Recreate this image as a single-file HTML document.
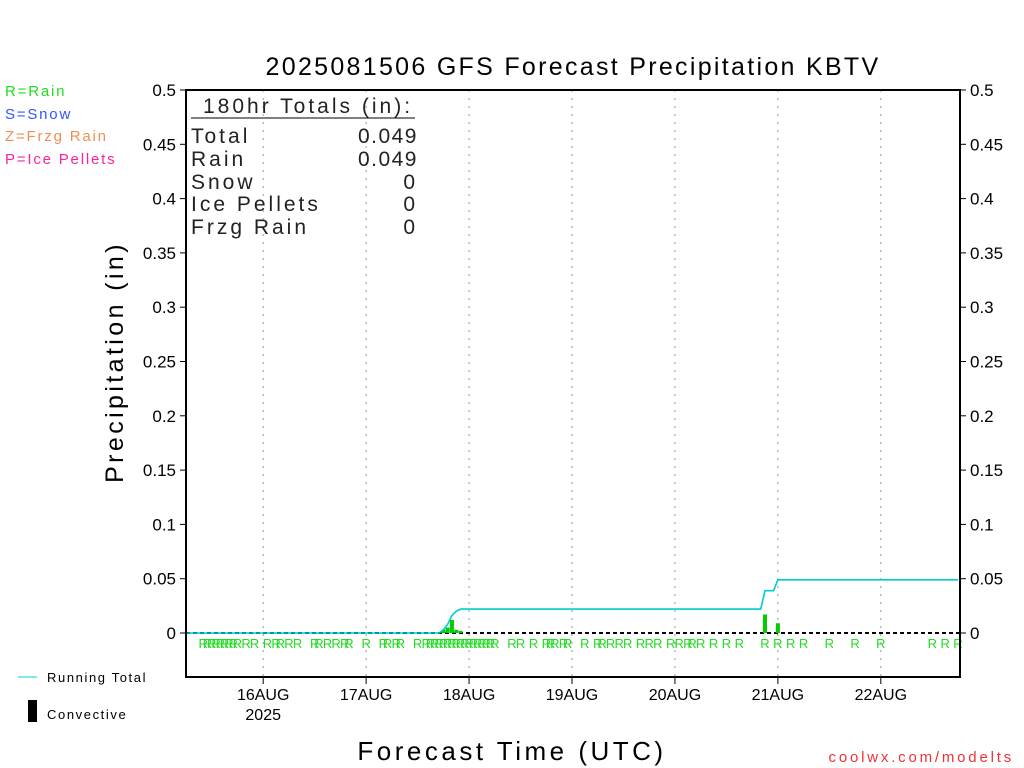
<!DOCTYPE html>
<html><head><meta charset="utf-8"><style>
html,body{margin:0;padding:0;background:#fff;}
svg{display:block;font-family:"Liberation Sans",sans-serif;}
</style></head><body>
<svg id="chart" width="1024" height="768" viewBox="0 0 1024 768" xmlns="http://www.w3.org/2000/svg">
<text x="573" y="75" font-size="25" text-anchor="middle" letter-spacing="2.3" fill="#000">2025081506 GFS Forecast Precipitation KBTV</text>
<g font-size="15" letter-spacing="1.8">
<text x="5" y="96" fill="#22dd22">R=Rain</text>
<text x="5" y="119" fill="#3355ff">S=Snow</text>
<text x="5" y="141" fill="#f09050">Z=Frzg Rain</text>
<text x="5" y="164" fill="#ff2299">P=Ice Pellets</text>
</g>
<g id="grid"></g>
<g id="marks"></g>
<rect x="186" y="90" width="774" height="587" fill="none" stroke="#000" stroke-width="2"/>
<g id="yaxes" font-size="17"></g>
<g id="xaxis" font-size="16"></g>
<text transform="translate(123,362) rotate(-90)" font-size="25" text-anchor="middle" letter-spacing="3.4">Precipitation (in)</text>
<text x="512" y="760" font-size="26" text-anchor="middle" letter-spacing="3.5">Forecast Time (UTC)</text>
<text x="1014" y="762" font-size="15" text-anchor="end" fill="#ee3333" letter-spacing="2.8">coolwx.com/modelts</text>
<g font-size="21" fill="#222" letter-spacing="3">
<text x="203" y="113">180hr Totals (in):</text>
<line x1="191" y1="118" x2="415" y2="118" stroke="#000" stroke-width="1"/>
<text x="191" y="143">Total</text><text x="418" y="143" text-anchor="end" letter-spacing="1.5">0.049</text>
<text x="191" y="166">Rain</text><text x="418" y="166" text-anchor="end" letter-spacing="1.5">0.049</text>
<text x="191" y="189">Snow</text><text x="418" y="189" text-anchor="end">0</text>
<text x="191" y="211">Ice Pellets</text><text x="418" y="211" text-anchor="end">0</text>
<text x="191" y="234">Frzg Rain</text><text x="418" y="234" text-anchor="end">0</text>
</g>
<g font-size="13" letter-spacing="1.6">
<line x1="18" y1="677" x2="37" y2="677" stroke="#00cccc" stroke-width="1"/>
<text x="47" y="682">Running Total</text>
<rect x="28" y="700" width="9" height="22" fill="#000"/>
<text x="47" y="719">Convective</text>
</g>
</svg>
<script>
const yTicks=[0,0.05,0.1,0.15,0.2,0.25,0.3,0.35,0.4,0.45,0.5];
const yTickLabels=["0","0.05","0.1","0.15","0.2","0.25","0.3","0.35","0.4","0.45","0.5"];
const dayHours=[18,42,66,90,114,138,162];
const dayLabels=["16AUG","17AUG","18AUG","19AUG","20AUG","21AUG","22AUG"];
const totalHours=[0,59,60,61,62,63,64,134,135,137,138,180];
const totalValues=[0,0,0.003,0.008,0.016,0.02,0.022,0.022,0.039,0.039,0.049,0.049];
const barHours=[60,61,62,63,64,135,138];
const barValues=[0.003,0.005,0.012,0.003,0.002,0.017,0.009];
const rainHours=[4,5,6,7,8,9,10,11,12,14,16,19,21,22,24,26,30,31,33,35,37,38,42,46,47,49,50,54,56,57,58,59,60,61,62,63,64,65,66,67,68,69,70,71,72,76,78,81,84,85,86,88,89,93,96,97,99,101,103,106,108,110,113,115,117,118,120,123,126,129,135,138,141,144,150,156,162,174,177,180];
const NS="http://www.w3.org/2000/svg";
const X0=186,X1=958,Y0=633,Y1=90;
function xs(h){return X0+(X1-X0)*h/180;}
function ys(v){return Y0-(Y0-Y1)*v/0.5;}
function mk(tag,attrs,parent){const e=document.createElementNS(NS,tag);for(const k in attrs)e.setAttribute(k,attrs[k]);parent.appendChild(e);return e;}
const grid=document.getElementById('grid'),marks=document.getElementById('marks'),ya=document.getElementById('yaxes'),xa=document.getElementById('xaxis');
dayHours.forEach((h,i)=>{
  const l=mk('line',{x1:xs(h),x2:xs(h),y1:90,y2:677,stroke:'#999','stroke-dasharray':'2,6'},grid);
  
  
  mk('line',{x1:xs(h),x2:xs(h),y1:677,y2:684,stroke:'#000'},xa);
  const t=mk('text',{x:xs(h),y:700,'text-anchor':'middle'},xa);t.textContent=dayLabels[i];
  
  
});
const yr=mk('text',{x:xs(dayHours[0]),y:720,'text-anchor':'middle'},xa);yr.textContent='2025';


yTicks.forEach((v,i)=>{
  const y=ys(v);
  mk('line',{x1:180,x2:186,y1:y,y2:y,stroke:'#000'},ya);
  mk('line',{x1:960,x2:966,y1:y,y2:y,stroke:'#000'},ya);
  const a=mk('text',{x:176,y:y+6,'text-anchor':'end'},ya);a.textContent=yTickLabels[i];
  
  
  const b=mk('text',{x:970,y:y+6},ya);b.textContent=yTickLabels[i];
  
  
});
const zl=mk('line',{x1:X0,x2:960,y1:Y0,y2:Y0,stroke:'#000','stroke-width':2,'stroke-dasharray':'4,3'},marks);


barHours.forEach((h,i)=>{
  const r=mk('rect',{x:xs(h)-2,y:ys(barValues[i]),width:4,height:Y0-ys(barValues[i]),fill:'#00cc00'},marks);
  
  
});
const pts=totalHours.map((h,i)=>xs(h)+','+ys(totalValues[i])).join(' ');
const pl=mk('polyline',{points:pts,fill:'none',stroke:'#00cccc','stroke-width':1.6},marks);


rainHours.forEach(h=>{
  const t=mk('text',{x:xs(h),y:648,'text-anchor':'middle','font-size':13,fill:'#22dd22'},marks);t.textContent='R';
  
  
});
</script>
</body></html>
